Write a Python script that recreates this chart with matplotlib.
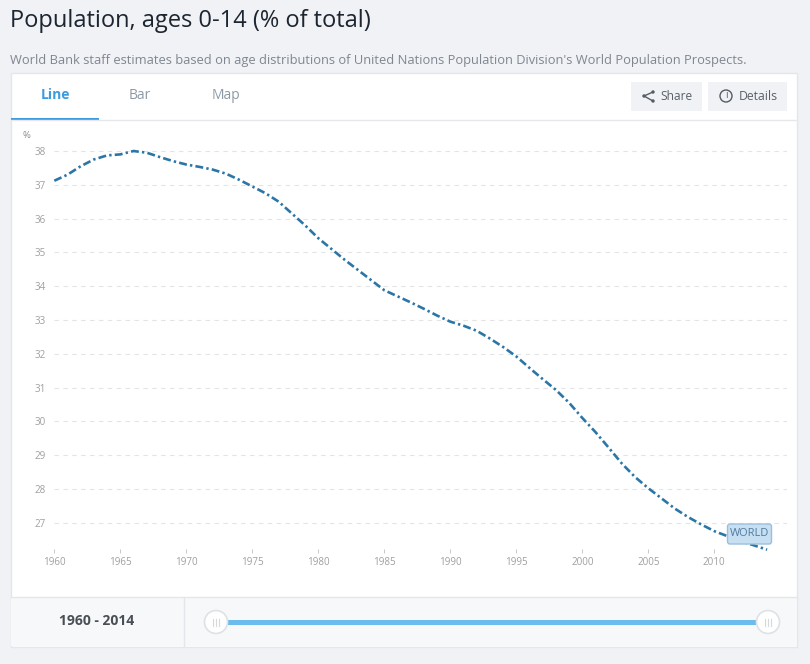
import matplotlib
matplotlib.use("Agg")
import matplotlib.pyplot as plt
from matplotlib.patches import Rectangle, FancyBboxPatch, Circle

plt.rcParams['font.family'] = ['Open Sans', 'DejaVu Sans']

years = list(range(1960, 2015))
share = [37.12, 37.3, 37.55, 37.75, 37.87, 37.9, 38.0, 37.95, 37.82, 37.7,
         37.6, 37.53, 37.45, 37.33, 37.15, 36.95, 36.75, 36.5, 36.15, 35.8,
         35.42, 35.1, 34.78, 34.48, 34.18, 33.88, 33.7, 33.52, 33.33, 33.13,
         32.95, 32.83, 32.68, 32.45, 32.2, 31.92, 31.58, 31.25, 30.93, 30.55,
         30.1, 29.68, 29.22, 28.75, 28.35, 28.02, 27.72, 27.42, 27.17, 26.95,
         26.75, 26.6, 26.45, 26.33, 26.2]
y_ticks = list(range(27, 39))
x_ticks = list(range(1960, 2015, 5))
tabs = ["Line", "Bar", "Map"]

W, H = 810, 664
BG = "#f0f2f6"
fig = plt.figure(figsize=(W / 100, H / 100), dpi=100, facecolor=BG)

# page furniture in pixel coordinates
ui = fig.add_axes([0, 0, 1, 1])
ui.set_xlim(0, W)
ui.set_ylim(H, 0)
ui.axis("off")

ui.text(10, 21, "Population, ages 0-14 (% of total)", fontsize=17.05, color="#1c2530",
        va="center", ha="left")
ui.text(10, 60.5, "World Bank staff estimates based on age distributions of United Nations "
        "Population Division's World Population Prospects.",
        fontsize=9.32, color="#808690", va="center", ha="left")

ui.add_patch(Rectangle((10.5, 72.5), 786.5, 574, fc="white", ec="#e3e6ea", lw=1))
ui.plot([11, 797], [120, 120], color="#e6e8eb", lw=1)
ui.add_patch(Rectangle((11, 117.6), 88, 2.4, fc="#3d9be0", ec="none"))
ui.text(55, 99, tabs[0], fontsize=10, color="#3d9be0", ha="center", va="baseline", fontweight="bold")
ui.text(140, 99, tabs[1], fontsize=10, color="#8c9aa6", ha="center", va="baseline")
ui.text(226, 99, tabs[2], fontsize=10, color="#8c9aa6", ha="center", va="baseline")

# Share and Details buttons
ui.add_patch(Rectangle((631, 82), 71, 29, fc="#f0f2f5", ec="none"))
ui.add_patch(Rectangle((708, 82), 79, 29, fc="#f0f2f5", ec="none"))
ui.plot([653, 644, 653], [92, 96, 101], color="#555c64", lw=1)
for px, py in [(653, 92), (644, 96), (653, 101)]:
    ui.add_patch(Circle((px, py), 1.7, fc="#555c64", ec="none"))
ui.text(660, 96, "Share", fontsize=8.6, color="#5a6068", ha="left", va="center")
ui.add_patch(Circle((726, 96), 6, fc="none", ec="#555c64", lw=1))
ui.text(726, 96, "i", fontsize=7, color="#555c64", ha="center", va="center")
ui.text(739, 96, "Details", fontsize=8.8, color="#5a6068", ha="left", va="center")

# range slider strip
ui.add_patch(Rectangle((11, 597), 785.5, 49, fc="#f6f8fa", ec="none"))
ui.plot([11, 797], [596.5, 596.5], color="#e3e6ea", lw=1)
ui.plot([183.5, 183.5], [597, 646], color="#e3e6ea", lw=1)
ui.text(96.5, 621, f"{years[0]} - {years[-1]}", fontsize=10, color="#4a4f55", ha="center",
        va="center", fontweight="bold")
ui.plot([216, 768], [622, 622], color="#6bbcec", lw=3.6, solid_capstyle="butt")
for cx in [216, 768]:
    ui.add_patch(Circle((cx, 622), 11.5, fc="white", ec="#dfe2e5", lw=1.2, zorder=3))
    for dx in [-3, 0, 3]:
        ui.plot([cx + dx, cx + dx], [618.5, 625.5], color="#d5d8dc", lw=0.8, zorder=4)

# chart axes: 13.2 px per year, 33.77 px per percent
left, right, top, bottom = 54.3, 787, 130, 549
ax = fig.add_axes([left / W, 1 - bottom / H, (right - left) / W, (bottom - top) / H])
ax.patch.set_alpha(0)
ax.set_xlim(1960, 1960 + (right - left) / 13.2)
ax.set_ylim(27 - (bottom - 522.7) / 33.77, 38 + (151 - top) / 33.77)
for s in ax.spines.values():
    s.set_visible(False)

ax.set_yticks(y_ticks)
ax.set_xticks(x_ticks)
ax.tick_params(axis="y", length=0, pad=6, labelsize=7.1, labelcolor="#a0a0a0")
ax.tick_params(axis="x", length=3, width=0.7, color="#c8c8c8", direction="out", pad=3,
               labelsize=7.1, labelcolor="#a0a0a0")
ax.grid(axis="y", color="#e4e4e4", lw=0.8, ls=(0, (4, 4)))
ax.set_axisbelow(True)

ax.plot(years, share, color="#2b76a6", lw=1.9, ls=(0, (3, 1.2, 0.9, 1.2)), clip_on=False)

ax.annotate("%", xy=(0, 1), xycoords="axes fraction", xytext=(-32, -5), textcoords="offset pixels",
            fontsize=6.8, color="#8a8a8a", va="center")

# end-of-line label
ui2 = fig.add_axes([0, 0, 1, 1])
ui2.set_xlim(0, W)
ui2.set_ylim(H, 0)
ui2.axis("off")
ui2.add_patch(FancyBboxPatch((727.5, 524), 44, 20, boxstyle="round,pad=0,rounding_size=2.5",
                             fc="#c6dff2", ec="#9dbfda", lw=1))
ui2.text(749.5, 534, "WORLD", fontsize=7.9, color="#4f7a9e", ha="center", va="center")

fig.savefig("out.png", dpi=100, facecolor=BG)
